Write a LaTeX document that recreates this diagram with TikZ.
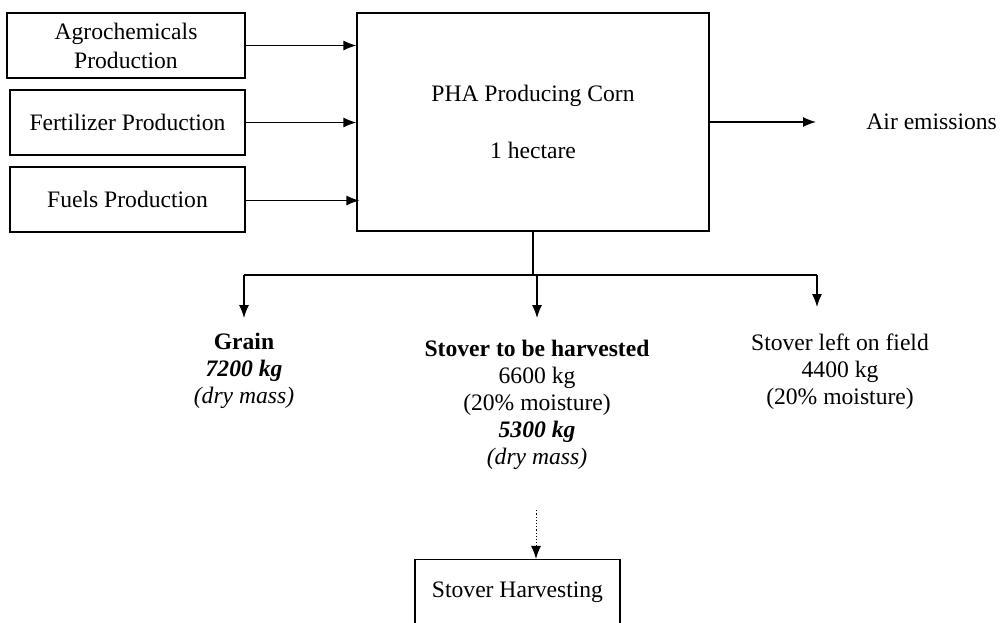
\documentclass[tikz,border=0pt]{standalone}
\usepackage{fontspec}
\setmainfont{Liberation Serif}
\usetikzlibrary{arrows.meta}
\begin{document}
\begin{tikzpicture}[x=0.5pt,y=-0.5pt,
  every node/.style={font=\fontsize{11.8}{13.5}\selectfont},
  box/.style={draw, line width=0.6pt, align=center, inner sep=0pt},
  lbl/.style={align=center, inner sep=0pt, anchor=north},
  arr/.style={line width=0.6pt, -{Latex[length=6.5pt,width=5pt]}},
  ln/.style={line width=0.6pt}]
\useasboundingbox (0,0) rectangle (1001,622);
\clip (0,0) rectangle (1001,622);

\node[box, minimum width=119pt, minimum height=32.5pt, font=\fontsize{11.8}{14.5}\selectfont] (agro) at (126,45.5) {Agrochemicals\\Production};
\node[box, minimum width=117.5pt, minimum height=32.5pt] (fert) at (127.5,122.5) {Fertilizer Production};
\node[box, minimum width=117.5pt, minimum height=32.5pt] (fuel) at (127.5,199.5) {Fuels Production};
\node[box, minimum width=176pt, minimum height=109pt] (main) at (533,122) {PHA Producing Corn\\[15pt]1 hectare};
\node[anchor=west, inner sep=0pt] (air) at (866,122) {Air emissions};
\coordinate (airend) at (816,122);

\draw[arr] (agro.east) -- (agro.east -| main.west);
\draw[arr] (fert.east) -- (fert.east -| main.west);
\draw[arr] ([yshift=-0.5pt]fuel.east) -- ([xshift=1.5pt,yshift=-0.5pt]fuel.east -| main.west);
\draw[arr] (main.east |- airend) -- (airend);

\node[lbl] (grain) at (244,333) {\textbf{Grain}\\\textbf{\textit{7200 kg}}\\\textit{(dry mass)}};
\node[lbl] (stov) at (537,340) {\textbf{Stover to be harvested}\\6600 kg\\(20\% moisture)\\\textbf{\textit{5300 kg}}\\\textit{(dry mass)}};
\node[lbl] (left) at (840,333) {Stover left on field\\4400 kg\\(20\% moisture)};

\coordinate (jn) at (533,275);
\coordinate (jl) at (244,275);
\coordinate (jr) at (817,275);
\draw[ln] (main.south) -- (jn);
\draw[ln] (jl) -- (jr);
\draw[arr] (jl) -- ([yshift=7.5pt]grain.north);
\draw[arr] (537,275) -- ([yshift=11pt]stov.north);
\draw[arr] (jr) -- ([yshift=13pt]left.north -| jr);

\node[box, minimum width=102.5pt, minimum height=33pt] (harv) at (517.5,592.5) {Stover Harvesting};
\draw[arr, densely dotted, line width=0.5pt] ([yshift=-20pt]stov.south -| 536,0) -- (harv.north -| 536,0);
\end{tikzpicture}
\end{document}
